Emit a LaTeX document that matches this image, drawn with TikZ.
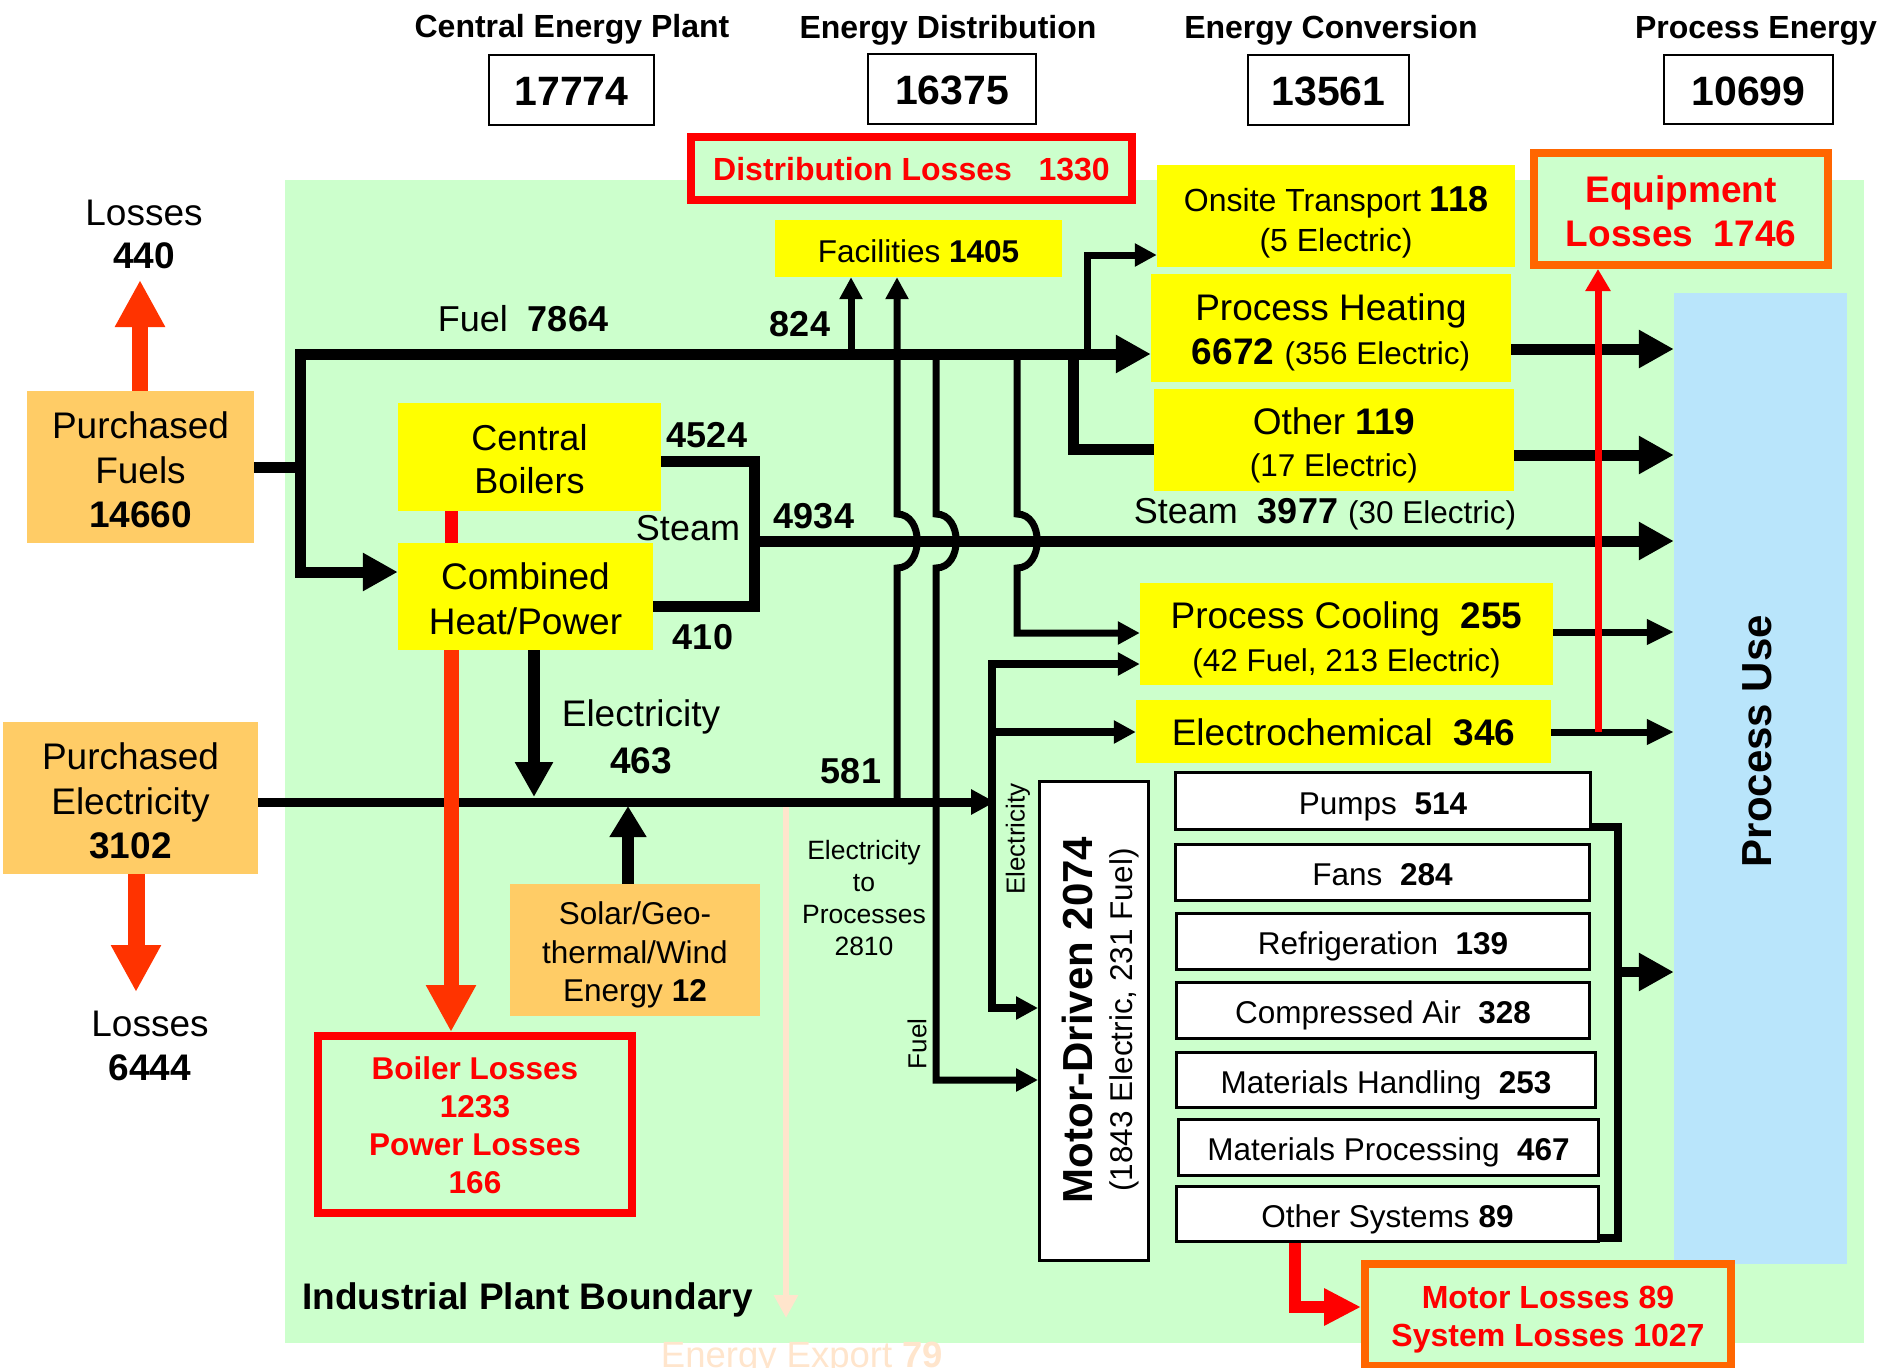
\documentclass[tikz,border=0pt]{standalone}
\usepackage{fontspec}
\setmainfont{Liberation Sans}
\usetikzlibrary{arrows.meta}
\definecolor{bggreen}{HTML}{CCFFCC}
\definecolor{puBlue}{HTML}{B9E5FB}
\definecolor{yel}{HTML}{FFFF00}
\definecolor{srcOrange}{HTML}{FFCC66}
\definecolor{lossOrange}{HTML}{FF3300}
\definecolor{lossRed}{HTML}{FF0000}
\definecolor{borderOrange}{HTML}{FF6600}
\definecolor{peach}{HTML}{FFE5CC}
\newcommand\fsz[2]{\fontsize{#1}{#2}\selectfont}
\tikzset{
 tipL/.tip={Triangle[length=35pt,width=36pt]},
 tipM/.tip={Triangle[length=27pt,width=24pt]},
 tipS/.tip={Triangle[length=22pt,width=22pt]},
 tipX/.tip={Triangle[length=47pt,width=47pt]},
 flowbig/.style={line width=11pt,draw=black},
 flowmid/.style={line width=8pt,draw=black},
 flowthin/.style={line width=7pt,draw=black},
 ybox/.style={rectangle,fill=yel,inner sep=0pt,align=center},
 obox/.style={rectangle,fill=srcOrange,inner sep=0pt,align=center},
 wbox/.style={rectangle,fill=white,draw=black,line width=3pt,inner sep=0pt,align=center,font=\fsz{31.5}{38},text height=26pt,text depth=0pt},
 hbox/.style={rectangle,fill=white,draw=black,line width=2.5pt,inner sep=0pt,font=\bfseries\fsz{41}{49},text height=31.4pt,text depth=0pt},
 lossbox/.style={rectangle,fill=bggreen,line width=8pt,inner sep=0pt,align=center,text=lossRed,font=\bfseries\fsz{32}{38}},
 losstxt/.style={inner sep=0pt,align=center,text=lossRed,font=\bfseries\fsz{32}{38}},
 lbl/.style={inner sep=0pt,align=center},
}
\begin{document}
\begin{tikzpicture}[x=1pt,y=-1pt]
\useasboundingbox (0,0) rectangle (1883,1368);
\fill[white] (0,0) rectangle (1883,1368);
\fill[bggreen] (285,180) rectangle (1864,1343);

% Process use
\node[rectangle,fill=puBlue,minimum width=173pt,minimum height=971pt,inner sep=0pt] (pu) at (1760.5,778.5) {};
\node[lbl,rotate=90,font=\bfseries\fsz{42}{50}] (putxt) at (1757,741) {Process Use};

% headers
\node[lbl,font=\bfseries\fsz{32}{38}] (h1) at (572,29.5) {Central Energy Plant};
\node[lbl,font=\bfseries\fsz{32}{38}] (h2) at (948,30.5) {Energy Distribution};
\node[lbl,font=\bfseries\fsz{32}{38}] (h3) at (1331,30.5) {Energy Conversion};
\node[lbl,font=\bfseries\fsz{32}{38}] (h4) at (1756,30.5) {Process Energy};
\node[hbox,minimum width=165pt,minimum height=70pt] (v1) at (571.5,90) {17774};
\node[hbox,minimum width=168pt,minimum height=70pt] (v2) at (952,89) {16375};
\node[hbox,minimum width=161pt,minimum height=70pt] (v3) at (1328.5,90) {13561};
\node[hbox,minimum width=169pt,minimum height=69pt] (v4) at (1748.5,89.5) {10699};

% loss boxes
\node[lossbox,draw=lossRed,minimum width=441pt,minimum height=63pt,text height=24.9pt,text depth=0pt] (dl) at (911.5,168.5) {Distribution Losses~~~1330};
\node[lossbox,draw=borderOrange,minimum width=294pt,minimum height=112pt] (eq) at (1681,209) {};
\node[losstxt,font=\bfseries\fsz{37}{44}] (eqt) at ([yshift=-2pt]eq.center) {Equipment\\Losses~~1746};
\node[lossbox,draw=lossRed,minimum width=314pt,minimum height=177pt] (bl) at (475,1124.5) {};
\node[losstxt,font=\bfseries\fsz{31.5}{38}] (blt) at ([yshift=-1pt]bl.center) {Boiler Losses\\1233\\Power Losses\\166};
\node[lossbox,draw=borderOrange,minimum width=366pt,minimum height=102pt] (ml) at (1548,1315) {};
\node[losstxt] (mlt) at ([yshift=-5pt]ml.center) {Motor Losses 89\\System Losses 1027};

% yellow boxes
\node[ybox,minimum width=287pt,minimum height=57pt,font=\fsz{31.5}{38},text height=27.6pt,text depth=0pt] (fac) at (918.5,248.5) {Facilities \textbf{1405}};
\node[ybox,minimum width=358pt,minimum height=102pt] (ot) at (1336,216) {};
\node[lbl,font=\fsz{32}{40}] (ott) at ([yshift=-6pt]ot.center) {Onsite Transport {\bfseries\fsz{36}{43}118}\\(5 Electric)};
\node[ybox,minimum width=360pt,minimum height=108pt] (ph) at (1331,328) {};
\node[lbl,font=\fsz{37}{44}] (pht) at ([yshift=-4pt]ph.center) {Process Heating\\{\bfseries 6672} {\fsz{31.5}{38}(356 Electric)}};
\node[ybox,minimum width=360pt,minimum height=102pt] (oth) at (1334,440) {};
\node[lbl,font=\fsz{37}{42}] (otht) at ([yshift=-5pt]oth.center) {Other \textbf{119}\\{\fsz{31.5}{38}(17 Electric)}};
\node[ybox,minimum width=413pt,minimum height=102pt] (pc) at (1346.5,634) {};
\node[lbl,font=\fsz{37}{43}] (pct) at ([yshift=-6pt]pc.center) {Process Cooling~~\textbf{255}\\{\fsz{31.5}{38}(42 Fuel, 213 Electric)}};
\node[ybox,minimum width=415pt,minimum height=63pt,font=\fsz{37}{44},text height=28.5pt,text depth=0pt] (ec) at (1343.5,731.5) {Electrochemical~~\textbf{346}};
\node[ybox,minimum width=263pt,minimum height=108pt] (cb) at (529.5,457) {};
\node[lbl,font=\fsz{36}{43}] (cbt) at ([yshift=-2pt]cb.center) {Central\\Boilers};
\node[ybox,minimum width=255pt,minimum height=107pt] (chp) at (525.5,596.5) {};
\node[lbl,font=\fsz{37}{45}] (chpt) at ([yshift=-2pt]chp.center) {Combined\\Heat/Power};

% orange sources
\node[obox,minimum width=227pt,minimum height=152pt] (pf) at (140.5,467) {};
\node[lbl,font=\fsz{37}{44.5}] (pft) at ([yshift=-3pt]pf.center) {Purchased\\Fuels\\\textbf{14660}};
\node[obox,minimum width=255pt,minimum height=152pt] (pe) at (130.5,798) {};
\node[lbl,font=\fsz{37}{44.5}] (pet) at ([yshift=-3pt]pe.center) {Purchased\\Electricity\\\textbf{3102}};
\node[obox,minimum width=250pt,minimum height=132pt] (sol) at (635,950) {};
\node[lbl,font=\fsz{31.5}{38.5}] (solt) at ([yshift=-5pt]sol.center) {Solar/Geo-\\thermal/Wind\\Energy \textbf{12}};

% motor driven
\node[wbox,minimum width=109pt,minimum height=479pt] (md) at (1094,1021) {};
\node[lbl,rotate=90,font=\bfseries\fsz{42}{50}] (mdt) at (1077,1020) {Motor-Driven 2074};
\node[lbl,rotate=90,font=\fsz{31.5}{38}] (mds) at (1124,1020) {(1843 Electric, 231 Fuel)};

% subsystems
\node[wbox,minimum width=415pt,minimum height=57pt] (pumps) at (1383,801) {Pumps~~\textbf{514}};
\node[wbox,minimum width=414pt,minimum height=56pt] (fans) at (1382.5,872.5) {Fans~~\textbf{284}};
\node[wbox,minimum width=413pt,minimum height=56pt] (refr) at (1383,941.5) {Refrigeration~~\textbf{139}};
\node[wbox,minimum width=413pt,minimum height=56pt] (comp) at (1383,1010.5) {Compressed Air~~\textbf{328}};
\node[wbox,minimum width=419pt,minimum height=55pt] (mh) at (1386,1080) {Materials Handling~~\textbf{253}};
\node[wbox,minimum width=420pt,minimum height=56pt] (mp) at (1388.5,1147.5) {Materials Processing~~\textbf{467}};
\node[wbox,minimum width=422pt,minimum height=55pt] (os) at (1387.5,1214) {Other Systems \textbf{89}};

% labels
\node[lbl,font=\fsz{37}{43}] (l440) at (144,234) {Losses\\\textbf{440}};
\node[lbl,font=\fsz{37}{44}] (l6444) at (150,1046) {Losses\\\textbf{6444}};
\node[lbl,font=\fsz{36}{43}] (lfuel) at (523,319) {Fuel~~\textbf{7864}};
\node[lbl,font=\bfseries\fsz{36}{43}] (l824) at (800,324) {824};
\node[lbl,font=\bfseries\fsz{36}{43}] (l4524) at (707,435) {4524};
\node[lbl,font=\fsz{36}{43}] (lsteam) at (688,528) {Steam};
\node[lbl,font=\bfseries\fsz{36}{43}] (l4934) at (814,516) {4934};
\node[lbl,font=\bfseries\fsz{36}{43}] (l410) at (703,637) {410};
\node[lbl,font=\fsz{37}{47}] (lel) at (641,737) {Electricity\\\textbf{463}};
\node[lbl,font=\bfseries\fsz{36}{43}] (l581) at (851,771) {581};
\node[lbl,font=\fsz{26.5}{32.3}] (letp) at (864,898) {Electricity\\to\\Processes\\2810};
\node[lbl,rotate=90,font=\fsz{26}{31}] (lfuelv) at (917,1044) {Fuel};
\node[lbl,rotate=90,font=\fsz{26}{31}] (lelv) at (1018,839) {Electricity};
\node[lbl,font=\fsz{36}{43}] (lsteam2) at (1325,514) {Steam~~\textbf{3977} {\fsz{31.5}{38}(30 Electric)}};
\node[lbl,font=\bfseries\fsz{37}{44}] (lipb) at (527.5,1300) {Industrial Plant Boundary};
\node[lbl,font=\fsz{36.5}{44},text=peach] (lexp) at (802,1359) {Energy Export \textbf{79}};

% coordinates
\coordinate (jf) at (300,467);
\coordinate (jfTop) at (300,354);
\coordinate (jfBot) at (300,572);
\coordinate (f824) at (851,354);
\coordinate (e581) at (897,802);
\coordinate (fmd) at (936,354);
\coordinate (fpc) at (1017,354);
\coordinate (fot) at (1087,354);
\coordinate (foth) at (1073,354);
\coordinate (js) at (754,541);
\coordinate (jeV) at (995,802);
\coordinate (jx) at (786,802);
\coordinate (xend) at (786,1318);
\coordinate (jeC) at (534,797);
\coordinate (jeS) at (628,806);
\coordinate (tipFuelLoss) at (140,280);
\coordinate (tipElecLoss) at (136,992);

% fuel network
\draw[flowbig] (pf.east) -- (jf);
\draw[flowbig,tipL-tipL] (jfTop -| ph.west) -- (jfTop) -- (jfBot) -- (jfBot -| chp.west);
\draw[flowthin,-tipS] (f824) -- (f824 |- fac.south);
\draw[flowthin,-tipS] (fot) -- (1087,255) -- (ot.west |- 0,255);
\draw[flowbig] (foth) -- (1073,449) -- (oth.west |- 0,449);

% energy export
\draw[peach,line width=6pt,-{Triangle[length=23pt,width=23pt]}] (jx) -- (xend);

% electricity
\draw[line width=9pt,-{Triangle[length=24pt,width=24pt]}] (pe.east |- 0,802) -- (jeV);
\draw[flowmid,tipS-tipS] (pc.west |- 0,664) -- (992,664) -- (992,1008) -- (md.west |- 0,1008);
\draw[flowmid,-tipS] (992,732) -- (ec.west |- 0,732);
\draw[line width=12pt,-tipL] (chp.south -| 534,0) -- (jeC);
\draw[line width=12pt,-{Triangle[length=31pt,width=35pt]}] (sol.north -| 628,0) -- (jeS);

% steam
\draw[flowbig] (cb.east |- 0,461) -- (754,461) -- (754,606) -- (chp.east |- 0,606);
\draw[flowbig,-tipL] (js) -- (pu.west |- js);

% lines with hops over the steam line
\draw[flowthin,-tipS] (e581) -- (897,568) .. controls (924,568) and (924,514) .. (897,514) -- (e581 |- fac.south);
\draw[flowthin,-tipS] (fmd) -- (936,514) .. controls (963,514) and (963,568) .. (936,568) -- (936,1080) -- (md.west |- 0,1080);
\draw[flowthin,-tipS] (fpc) -- (1017,514) .. controls (1044,514) and (1044,568) .. (1017,568) -- (1017,633) -- (pc.west |- 0,633);

% outflows to process use
\draw[flowbig,-tipL] (ph.east |- 0,349) -- (pu.west |- 0,349);
\draw[flowbig,-tipL] (oth.east |- 0,455) -- (pu.west |- 0,455);
\draw[flowthin,-tipM] (pc.east |- 0,632) -- (pu.west |- 0,632);
\draw[flowthin,-tipM] (ec.east |- 0,732) -- (pu.west |- 0,732);
\draw[line width=8pt] (pumps.east |- 0,827) -- (1618,827) -- (1618,1238) -- (os.east |- 0,1238);
\draw[line width=10pt,-tipL] (1618,972) -- (pu.west |- 0,972);

% losses
\draw[lossOrange,line width=16pt,-tipX] (pf.north -| 140,0) -- (tipFuelLoss);
\draw[lossOrange,line width=17pt,-tipX] (pe.south -| 136,0) -- (tipElecLoss);
\draw[lossRed,line width=13pt] (cb.south -| 451,0) -- (chp.north -| 451,0);
\draw[lossOrange,line width=15pt,-tipX] (chp.south -| 451,0) -- (bl.north -| 451,0);
\draw[lossRed,line width=7pt,-{Triangle[length=22pt,width=24pt]}] (1598,732) -- (eq.south -| 1598,0);
\draw[lossRed,line width=12pt,-{Triangle[length=37pt,width=35pt]}] (os.south -| 1295,0) -- (1295,1307) -- (ml.west |- 0,1307);
\end{tikzpicture}
\end{document}
